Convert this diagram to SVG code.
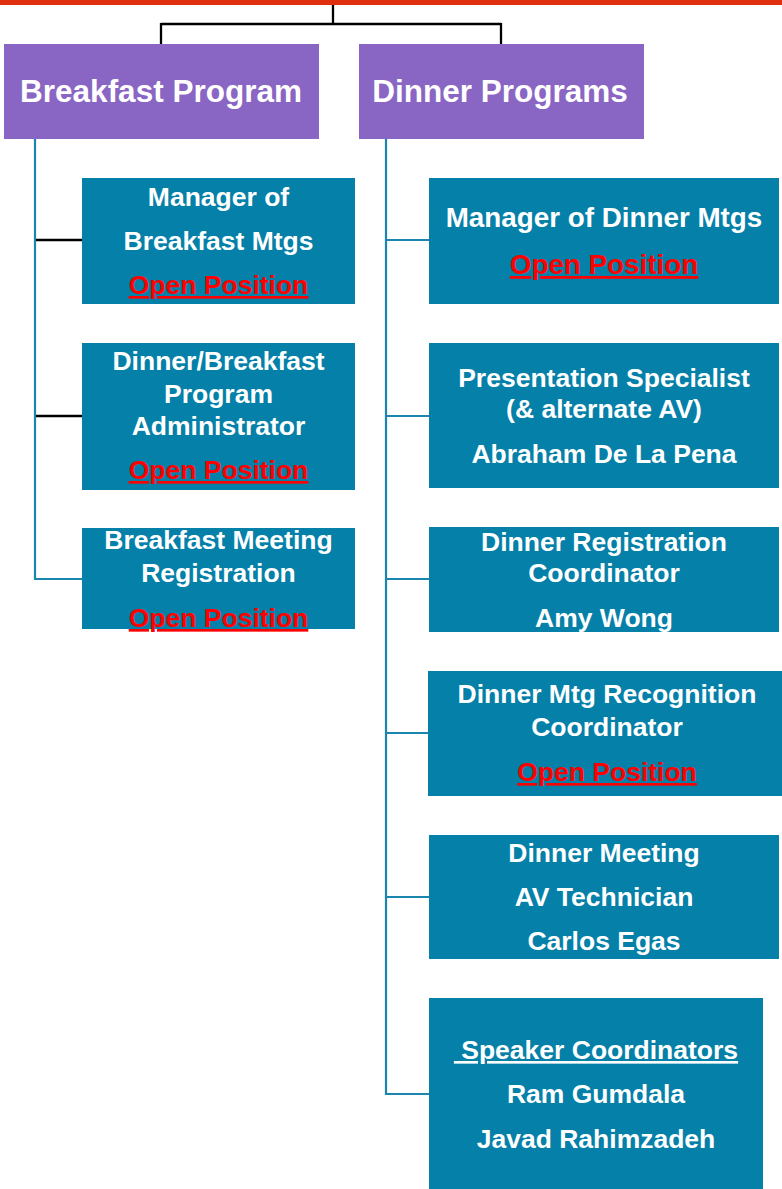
<svg xmlns="http://www.w3.org/2000/svg" width="782" height="1189" viewBox="0 0 782 1189">
  <style>
    .hdr { fill: #8A66C4; }
    .box { fill: #0580A8; }
    .ht { font-family: "Liberation Sans", Arial, sans-serif; font-weight: bold; font-size: 31.5px; fill: #FFFFFF; text-anchor: middle; }
    .t { font-family: "Liberation Sans", Arial, sans-serif; font-weight: bold; font-size: 26.5px; fill: #FFFFFF; text-anchor: middle; }
    .open { fill: #FF0000; text-decoration: underline; }
    .ul { text-decoration: underline; }
    .blk { stroke: #000000; stroke-width: 2.3; fill: none; }
    .tl { stroke: #1A86AE; stroke-width: 2.2; fill: none; }
  </style>
  <rect x="0" y="0" width="782" height="5" fill="#DF2F0E"/>
  <g id="connectors">
    <path class="blk" d="M333 5 V24 M161 24 H501 M161 23 V44 M501 23 V44"/>
    <path class="tl" d="M35 139 V579 H82"/>
    <path class="blk" d="M36 240 H82 M36 416 H82"/>
    <path class="tl" d="M386 139 V1094 H429 M386 240 H429 M386 416 H429 M386 579 H429 M386 733 H428 M386 897 H429"/>
  </g>
  <g id="breakfast-program">
    <rect class="hdr" x="4" y="44" width="315" height="95"/>
    <text class="ht" x="161" y="102">Breakfast Program</text>
  </g>
  <g id="dinner-programs">
    <rect class="hdr" x="359" y="44" width="285" height="95"/>
    <text class="ht" x="500" y="102">Dinner Programs</text>
  </g>
  <g id="manager-breakfast">
    <rect class="box" x="82" y="178" width="273" height="126"/>
    <text class="t" x="218.5" y="206">Manager of</text>
    <text class="t" x="218.5" y="250">Breakfast Mtgs</text>
    <text class="t open" x="218.5" y="294">Open Position</text>
  </g>
  <g id="program-administrator">
    <rect class="box" x="82" y="343" width="273" height="147"/>
    <text class="t" x="218.5" y="370">Dinner/Breakfast</text>
    <text class="t" x="218.5" y="403">Program</text>
    <text class="t" x="218.5" y="435">Administrator</text>
    <text class="t open" x="218.5" y="479">Open Position</text>
  </g>
  <g id="breakfast-registration">
    <rect class="box" x="82" y="528" width="273" height="101"/>
    <text class="t" x="218.5" y="549">Breakfast Meeting</text>
    <text class="t" x="218.5" y="582">Registration</text>
    <text class="t open" x="218.5" y="627">Open Position</text>
  </g>
  <g id="manager-dinner">
    <rect class="box" x="429" y="178" width="350" height="126"/>
    <text class="t" x="604" y="227" style="font-size:27.8px">Manager of Dinner Mtgs</text>
    <text class="t open" x="604" y="274" style="font-size:27.8px">Open Position</text>
  </g>
  <g id="presentation-specialist">
    <rect class="box" x="429" y="343" width="350" height="145"/>
    <text class="t" x="604" y="387">Presentation Specialist</text>
    <text class="t" x="604" y="418">(&amp; alternate AV)</text>
    <text class="t" x="604" y="463">Abraham De La Pena</text>
  </g>
  <g id="dinner-registration">
    <rect class="box" x="429" y="527" width="350" height="105"/>
    <text class="t" x="604" y="551">Dinner Registration</text>
    <text class="t" x="604" y="582">Coordinator</text>
    <text class="t" x="604" y="627">Amy Wong</text>
  </g>
  <g id="recognition-coordinator">
    <rect class="box" x="428" y="671" width="354" height="125"/>
    <text class="t" x="607" y="703">Dinner Mtg Recognition</text>
    <text class="t" x="607" y="736">Coordinator</text>
    <text class="t open" x="607" y="781">Open Position</text>
  </g>
  <g id="av-technician">
    <rect class="box" x="429" y="835" width="350" height="124"/>
    <text class="t" x="604" y="862">Dinner Meeting</text>
    <text class="t" x="604" y="906">AV Technician</text>
    <text class="t" x="604" y="950">Carlos Egas</text>
  </g>
  <g id="speaker-coordinators">
    <rect class="box" x="429" y="998" width="334" height="191"/>
    <text class="t ul" x="596" y="1059" xml:space="preserve"> Speaker Coordinators</text>
    <text class="t" x="596" y="1103">Ram Gumdala</text>
    <text class="t" x="596" y="1148">Javad Rahimzadeh</text>
  </g>
</svg>
